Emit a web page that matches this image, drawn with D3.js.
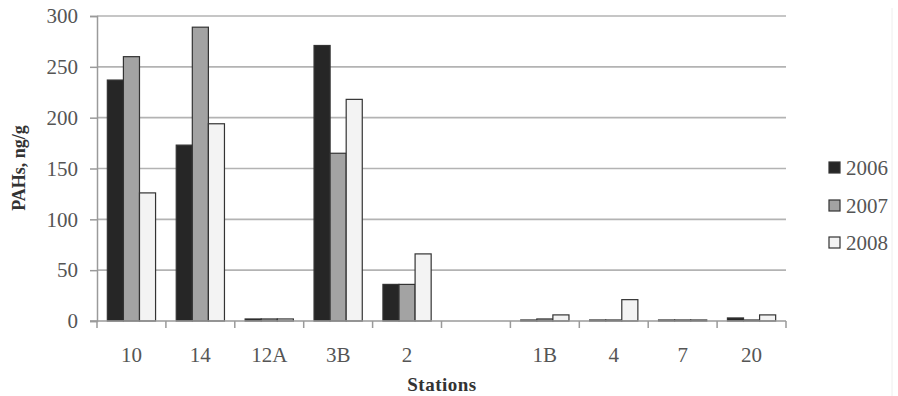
<!DOCTYPE html>
<html><head><meta charset="utf-8">
<script src="https://cdn.jsdelivr.net/npm/d3@7"></script>
<style>body{margin:0;background:#fff}svg{display:block}</style>
</head><body>
<script>
const stations = ["10","14","12A","3B","2","","1B","4","7","20"];
const years = ["2006","2007","2008"];
const v2006 = [237,173,2,271,36,null,1,1,1,3];
const v2007 = [260,289,2,165,36,null,2,1,1,1];
const v2008 = [126,194,2,218,66,null,6,21,1,6];
const yTicks = [0,50,100,150,200,250,300];
const colors = ["#262626","#a3a3a3","#f3f3f3"];

const W=898,H=396;
const svg=d3.select("body").append("svg").attr("width",W).attr("height",H);
const x=d3.scaleBand().domain(stations.map((d,i)=>i)).range([97,786]).paddingInner(0).paddingOuter(0);
const y=d3.scaleLinear().domain([0,300]).range([321,16]);
const gw=x.bandwidth()*0.70;
const x1=d3.scaleBand().domain(years).range([0,gw]);
const serif="'Liberation Serif','Times New Roman',serif";

// faint right frame
svg.append("line").attr("x1",892).attr("x2",892).attr("y1",8).attr("y2",396).attr("stroke","#eeeeee").attr("stroke-width",1);

// gridlines
svg.append("g").selectAll("line").data(yTicks.filter(t=>t>0)).join("line")
 .attr("x1",97).attr("x2",786).attr("y1",d=>y(d)).attr("y2",d=>y(d))
 .attr("stroke","#b3b3b3").attr("stroke-width",1.6);

// bars
const series=[v2006,v2007,v2008];
series.forEach((vals,si)=>{
  svg.append("g").selectAll("rect").data(vals.map((v,i)=>({v,i})).filter(d=>d.v!=null)).join("rect")
   .attr("x",d=>x(d.i)+(x.bandwidth()-gw)/2+x1(years[si]))
   .attr("width",x1.bandwidth())
   .attr("y",d=>y(d.v))
   .attr("height",d=>y(0)-y(d.v))
   .attr("fill",colors[si]).attr("stroke","#333").attr("stroke-width",1.2);
});

// y axis
const ya=svg.append("g").attr("transform","translate(97,0)")
 .call(d3.axisLeft(y).tickValues(yTicks).tickSize(7).tickPadding(12));
ya.select(".domain").attr("stroke","#9a9a9a").attr("stroke-width",1.5);
ya.selectAll(".tick line").attr("stroke","#9a9a9a").attr("stroke-width",1.5);
ya.selectAll("text").attr("font-family",serif).attr("font-size",21).attr("fill","#555");

// x axis
const xa=svg.append("g").attr("transform","translate(0,321)");
xa.append("line").attr("x1",90).attr("x2",786).attr("y1",0).attr("y2",0).attr("stroke","#9a9a9a").attr("stroke-width",1.5);
xa.selectAll("line.t").data(d3.range(stations.length+1)).join("line").attr("class","t")
 .attr("x1",d=>d<stations.length?x(d):786).attr("x2",d=>d<stations.length?x(d):786)
 .attr("y1",0).attr("y2",7).attr("stroke","#9a9a9a").attr("stroke-width",1.5);
xa.selectAll("text").data(stations).join("text")
 .attr("x",(d,i)=>x(i)+x.bandwidth()/2).attr("y",41).attr("text-anchor","middle")
 .attr("font-family",serif).attr("font-size",21).attr("fill","#555").text(d=>d);

// titles
svg.append("text").attr("x",442).attr("y",391).attr("text-anchor","middle")
 .attr("font-family",serif).attr("font-weight","bold").attr("font-size",19).attr("letter-spacing",0.5).attr("fill","#333").text("Stations");
svg.append("text").attr("transform","translate(25,168) rotate(-90)").attr("text-anchor","middle")
 .attr("font-family",serif).attr("font-weight","bold").attr("font-size",18).attr("fill","#333").text("PAHs, ng/g");

// legend
const lg=svg.append("g");
years.forEach((yr,i)=>{
  const cy=[168,206,243][i];
  lg.append("rect").attr("x",829).attr("y",cy-6).attr("width",11).attr("height",11)
   .attr("fill",colors[i]).attr("stroke","#333").attr("stroke-width",1.2);
  lg.append("text").attr("x",846).attr("y",cy+7).attr("font-family",serif).attr("font-size",21).attr("fill","#555").text(yr);
});
</script>
</body></html>
